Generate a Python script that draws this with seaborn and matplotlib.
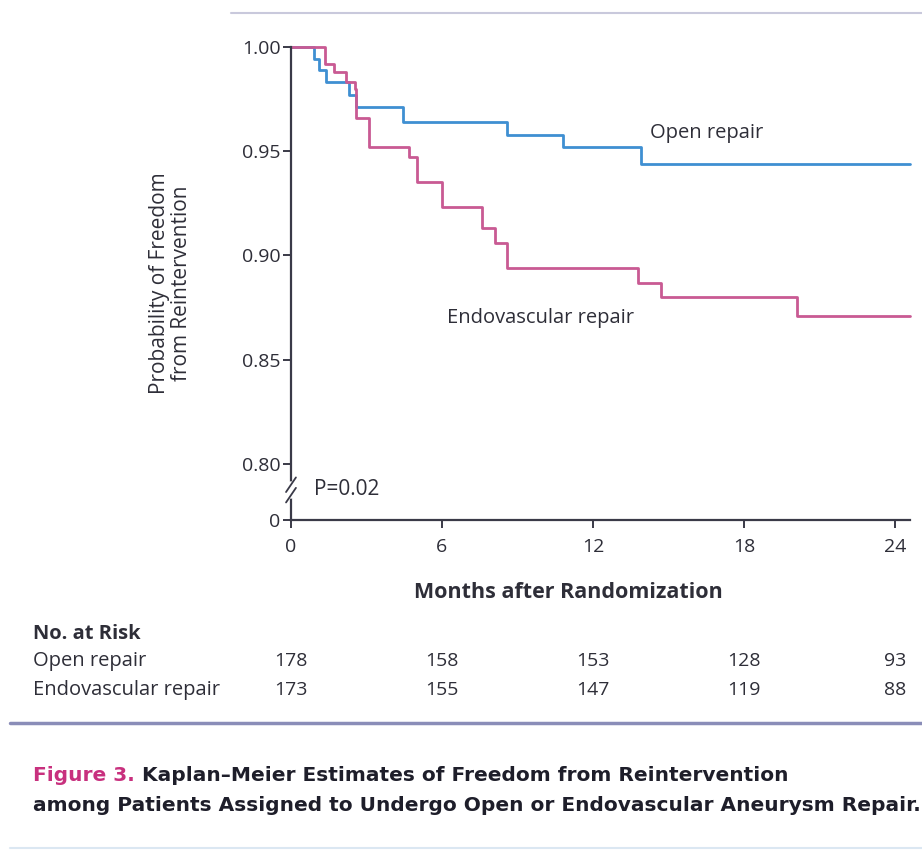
import numpy as np
import pandas as pd
import seaborn as sns
import matplotlib.pyplot as plt
import matplotlib.transforms as mtransforms

# Kaplan-Meier step points (months, survival)
open_months = [0, 0.9, 1.1, 1.4, 2.3, 2.6, 4.45, 8.6, 10.8, 13.9, 24.6]
open_surv = [1.0, 0.994, 0.989, 0.983, 0.977, 0.971, 0.964, 0.958, 0.952, 0.944, 0.944]

endo_months = [0, 1.35, 1.7, 2.2, 2.55, 2.6, 3.1, 4.7, 5.0, 6.0, 7.6, 8.1, 8.6, 13.8, 14.7, 20.1, 24.6]
endo_surv = [1.0, 0.992, 0.988, 0.983, 0.980, 0.966, 0.952, 0.947, 0.935, 0.923, 0.913, 0.906, 0.894,
             0.887, 0.880, 0.871, 0.871]

risk_months = [0, 6, 12, 18, 24]
risk_open = [178, 158, 153, 128, 93]
risk_endo = [173, 155, 147, 119, 88]

group_names = ["Open repair", "Endovascular repair"]
colors = {"Open repair": "#3f8fd2", "Endovascular repair": "#c95a93"}

df = pd.concat([
    pd.DataFrame({"month": open_months, "surv": open_surv, "group": group_names[0]}),
    pd.DataFrame({"month": endo_months, "surv": endo_surv, "group": group_names[1]}),
])

sns.set_style("ticks")
plt.rcParams["font.family"] = ["Open Sans", "DejaVu Sans"]
text_color = "#2e2e38"
axis_color = "#3a3a48"
cap_font = ["DejaVu Sans"]

fig = plt.figure(figsize=(9.22, 8.51), dpi=100)
ax = fig.add_axes([0.3156, 0.389, 0.987 - 0.3156, 0.5558])

sns.lineplot(data=df, x="month", y="surv", hue="group", palette=colors,
             estimator=None, sort=False, drawstyle="steps-post",
             linewidth=2.0, legend=False, ax=ax)
for line in ax.lines:
    line.set_clip_on(False)

# broken y axis: "0" sits just below 0.80
y_floor = 0.7731
ax.set_xlim(0, 24.6)
ax.set_ylim(y_floor, 1.0)
ax.set_xticks(risk_months)
ax.set_xticklabels([str(m) for m in risk_months])
ax.set_yticks([y_floor, 0.80, 0.85, 0.90, 0.95, 1.00])
ax.set_yticklabels(["0", "0.80", "0.85", "0.90", "0.95", "1.00"])
ax.tick_params(axis="both", direction="out", length=6, width=1.4, colors=axis_color,
               labelsize=14, labelcolor=text_color)
ax.tick_params(axis="x", pad=7)
ax.tick_params(axis="y", pad=1.5)
sns.despine(ax=ax)
for side in ["left", "bottom"]:
    ax.spines[side].set_linewidth(1.6)
    ax.spines[side].set_color(axis_color)

ax.set_xlabel("")
ax.set_ylabel("")
fig.text(0.616, 0.304, "Months after Randomization", ha="center", va="center",
         fontsize=15.5, fontweight="bold", color=text_color)
fig.text(0.185, 0.667, "Probability of Freedom\nfrom Reintervention", ha="center", va="center",
         rotation=90, fontsize=15, color=text_color, linespacing=1.05)

# break marks on the y spine
trans = mtransforms.blended_transform_factory(ax.transAxes, ax.transData)
ax.plot([0, 0], [0.7845, 0.7905], transform=trans, color="white", lw=4, clip_on=False, zorder=5)
for yb in [0.7845, 0.7895]:
    ax.plot([-0.008, 0.008], [yb - 0.003, yb + 0.004], transform=trans, color=axis_color,
            lw=1.3, clip_on=False, zorder=6)

ax.text(0.9, 0.7875, "P=0.02", fontsize=15, color=text_color, va="center", ha="left")

# curve labels
ax.text(14.25, 0.9586, "Open repair", fontsize=14.5, color=text_color, va="center", ha="left")
ax.text(6.2, 0.8700, "Endovascular repair", fontsize=14.5, color=text_color, va="center", ha="left")

# number at risk table
tx = mtransforms.blended_transform_factory(ax.transData, fig.transFigure)
fig.text(0.036, 0.255, "No. at Risk", fontsize=14.5, fontweight="bold", color=text_color, va="center")
fig.text(0.036, 0.2233, group_names[0], fontsize=14.5, color=text_color, va="center")
fig.text(0.036, 0.189, group_names[1], fontsize=14.5, color=text_color, va="center")
for m, a, b in zip(risk_months, risk_open, risk_endo):
    ax.text(m, 0.2233, str(a), transform=tx, fontsize=14, color=text_color, ha="center", va="center")
    ax.text(m, 0.189, str(b), transform=tx, fontsize=14, color=text_color, ha="center", va="center")

# rules
fig.add_artist(plt.Line2D([0.011, 1.0], [0.150, 0.150], color="#8a8db8", lw=2.5))
fig.add_artist(plt.Line2D([0.25, 1.0], [0.985, 0.985], color="#c9c9dc", lw=1.5))
fig.add_artist(plt.Line2D([0.011, 1.0], [0.004, 0.004], color="#dbe7f2", lw=1.5))

# caption
cap1 = fig.text(0.036, 0.0893, "Figure 3. ", fontsize=14.5, fontweight="bold", color="#c8307e",
                va="center", family=cap_font)
fig.text(0.036, 0.0529, "among Patients Assigned to Undergo Open or Endovascular Aneurysm Repair.",
         fontsize=14.5, fontweight="bold", color="#1e1e2a", va="center", family=cap_font)
ax.annotate("Kaplan\u2013Meier Estimates of Freedom from Reintervention", xy=(1, 0.5), xycoords=cap1,
            va="center", ha="left", fontsize=14.5, fontweight="bold", color="#1e1e2a",
            family=cap_font, annotation_clip=False)

fig.savefig("out.png", dpi=100, facecolor="white")
